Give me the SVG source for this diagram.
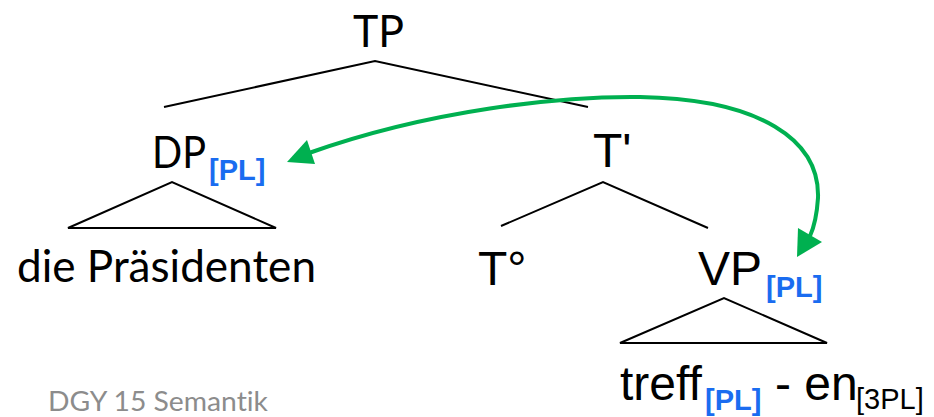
<svg xmlns="http://www.w3.org/2000/svg" width="934" height="417" viewBox="0 0 934 417">
<defs>
<style>
.cal{font-family:Lato,"Open Sans","Noto Sans",sans-serif;font-size:44px;fill:#000}
.ar{font-family:"Liberation Sans",Arial,sans-serif;font-size:48px;fill:#000}
.tag{font-family:"Liberation Sans",Arial,sans-serif;font-size:29px;font-weight:bold;fill:#1a6cf0}
.sub{font-family:"Liberation Sans",Arial,sans-serif;font-size:29px;fill:#000}
.br{fill:none;stroke:#000;stroke-width:2}
.head{fill:#00b050}
.foot{font-family:Lato,"Open Sans","Noto Sans",sans-serif;font-size:26px;fill:#8c8c8c;font-variant-ligatures:none}
</style>
</defs>
<rect width="934" height="417" fill="#fff"/>
<g id="connectors">
<polyline class="br" points="164,107 375,61 588,107"/>
<polyline class="br" points="501,226 603,182 708,228"/>
<polygon class="br" points="68,228 172,182 276,228"/>
<polygon class="br" points="620,343 724,298 827,343"/>
<path d="M309,153 C430,110 560,96 640,97 C760,99 820,140 818,198 C817,213 815,225 810,236" fill="none" stroke="#00b050" stroke-width="4"/>
<polygon class="head" points="287,162 307,140 315,164"/>
<polygon class="head" points="797,257 798,228 822,242"/>
</g>
<g id="TP"><text class="cal" x="353" y="47" textLength="51" lengthAdjust="spacingAndGlyphs">TP</text></g>
<g id="DP"><text class="cal" x="152" y="168" textLength="54" lengthAdjust="spacingAndGlyphs">DP</text><text class="tag" x="209" y="180">[PL]</text></g>
<g id="Tbar"><text class="ar" x="593" y="167">T'</text></g>
<g id="DPleaf"><text class="cal" x="17" y="282" textLength="299" lengthAdjust="spacingAndGlyphs">die Präsidenten</text></g>
<g id="T0"><text class="ar" x="478" y="285">T°</text></g>
<g id="VP"><text class="ar" x="698" y="285">VP</text><text class="tag" x="766" y="297">[PL]</text></g>
<g id="VPleaf"><text class="ar" x="620" y="400">treff</text><text class="tag" x="705" y="410">[PL]</text><text class="ar" x="775" y="400">- en</text><text class="sub" x="856" y="409">[3PL]</text></g>
<g id="footer"><text class="foot" x="48" y="411" textLength="220" lengthAdjust="spacingAndGlyphs">DGY 15 Semantik</text></g>
</svg>
